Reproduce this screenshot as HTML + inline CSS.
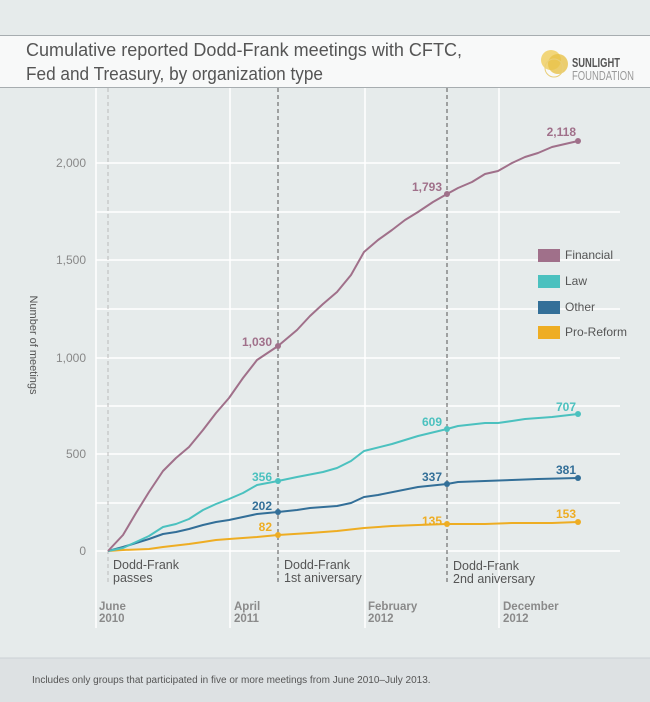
<!DOCTYPE html>
<html><head><meta charset="utf-8"><style>
body{margin:0;width:650px;height:702px;overflow:hidden;background:#e6ebeb;font-family:"Liberation Sans",sans-serif;}
</style></head><body>
<svg width="650" height="702" xmlns="http://www.w3.org/2000/svg" style="position:absolute;left:0;top:0">
<rect x="0" y="0" width="650" height="702" fill="#e6ebeb"/>
<rect x="0" y="35" width="650" height="52" fill="#f8f9f9"/>
<line x1="0" y1="35.5" x2="650" y2="35.5" stroke="#a7adb0"/>
<line x1="0" y1="87.5" x2="650" y2="87.5" stroke="#a7adb0"/>
<rect x="0" y="658" width="650" height="44" fill="#dde1e3"/>
<line x1="0" y1="658" x2="650" y2="658" stroke="#ccd1d4"/>
<text x="26" y="56" font-size="18" fill="#555" textLength="436" lengthAdjust="spacingAndGlyphs">Cumulative reported Dodd-Frank meetings with CFTC,</text>
<text x="26" y="80" font-size="18" fill="#555" textLength="297" lengthAdjust="spacingAndGlyphs">Fed and Treasury, by organization type</text>
<circle cx="551" cy="60" r="10" fill="#f1d16b" opacity="0.9"/>
<circle cx="558" cy="64" r="10" fill="#e7c24a" opacity="0.8"/>
<circle cx="554" cy="68" r="9" fill="none" stroke="#e9cf7a"/>
<text x="572" y="67" font-size="13" font-weight="bold" fill="#555" textLength="48" lengthAdjust="spacingAndGlyphs">SUNLIGHT</text>
<text x="572" y="80" font-size="13" fill="#999" textLength="62" lengthAdjust="spacingAndGlyphs">FOUNDATION</text>
<g stroke="#fff" stroke-width="1.5">
<line x1="96" y1="88" x2="96" y2="628"/><line x1="230" y1="88" x2="230" y2="628"/>
<line x1="365" y1="88" x2="365" y2="628"/><line x1="499" y1="88" x2="499" y2="628"/>
<line x1="96" y1="163" x2="620" y2="163"/><line x1="96" y1="212" x2="620" y2="212"/>
<line x1="96" y1="260" x2="620" y2="260"/><line x1="96" y1="309" x2="620" y2="309"/>
<line x1="96" y1="358" x2="620" y2="358"/><line x1="96" y1="406" x2="620" y2="406"/>
<line x1="96" y1="454" x2="620" y2="454"/><line x1="96" y1="503" x2="620" y2="503"/>
<line x1="96" y1="551" x2="620" y2="551"/>
</g>
<g stroke-dasharray="4,3" stroke-width="1">
<line x1="108" y1="88" x2="108" y2="584" stroke="#bbb"/>
<line x1="278" y1="88" x2="278" y2="584" stroke="#555"/>
<line x1="447" y1="88" x2="447" y2="584" stroke="#555"/>
</g>
<g font-size="12" fill="#888" text-anchor="end">
<text x="86" y="167">2,000</text><text x="86" y="264">1,500</text><text x="86" y="362">1,000</text>
<text x="86" y="458">500</text><text x="86" y="555">0</text>
</g>
<text transform="translate(30,345) rotate(90)" font-size="11" fill="#555" text-anchor="middle">Number of meetings</text>
<g fill="none" stroke-width="2" stroke-linejoin="round">
<polyline stroke="#eead23" points="108,551 123,550 149,549 163,547 189,544 203,542 216,540 229,539 257,537 278,535 310,533 337,531 364,528 392,526 418,525 447,524 485,524 512,523 552,523 578,522"/>
<polyline stroke="#336f98" points="108,551 123,547 136,543 149,539 163,534 176,532 189,529 203,525 216,522 229,520 257,514 278,512 297,510 310,508 337,506 351,503 364,497 378,495 418,487 447,484 458,482 485,481 512,480 538,479 578,478"/>
<polyline stroke="#4bc1bf" points="108,551 123,548 136,542 149,536 163,527 176,524 189,519 203,510 216,504 229,499 243,493 257,485 278,481 297,477 323,472 337,468 351,461 364,451 392,444 418,436 447,429 458,426 485,423 498,423 512,421 525,419 552,417 578,414"/>
<polyline stroke="#a0708a" points="108,551 123,535 136,513 149,492 163,471 176,458 189,447 203,430 216,413 229,398 243,378 257,360 278,346 297,330 310,316 323,304 337,292 351,275 364,252 378,240 392,230 405,220 418,212 433,202 447,194 458,188 472,182 485,174 498,171 512,163 525,157 538,153 552,147 565,144 578,141"/>
</g>
<g>
<circle cx="278" cy="346" r="3" fill="#a0708a"/><circle cx="447" cy="194" r="3" fill="#a0708a"/><circle cx="578" cy="141" r="3" fill="#a0708a"/>
<circle cx="278" cy="481" r="3" fill="#4bc1bf"/><circle cx="447" cy="429" r="3" fill="#4bc1bf"/><circle cx="578" cy="414" r="3" fill="#4bc1bf"/>
<circle cx="278" cy="512" r="3" fill="#336f98"/><circle cx="447" cy="484" r="3" fill="#336f98"/><circle cx="578" cy="478" r="3" fill="#336f98"/>
<circle cx="278" cy="535" r="3" fill="#eead23"/><circle cx="447" cy="524" r="3" fill="#eead23"/><circle cx="578" cy="522" r="3" fill="#eead23"/>
</g>
<g font-size="12" font-weight="bold" text-anchor="end">
<text x="272" y="346" fill="#a0708a">1,030</text><text x="442" y="191" fill="#a0708a">1,793</text><text x="576" y="136" fill="#a0708a">2,118</text>
<text x="272" y="481" fill="#4bc1bf">356</text><text x="442" y="426" fill="#4bc1bf">609</text><text x="576" y="411" fill="#4bc1bf">707</text>
<text x="272" y="510" fill="#336f98">202</text><text x="442" y="481" fill="#336f98">337</text><text x="576" y="474" fill="#336f98">381</text>
<text x="272" y="531" fill="#eead23">82</text><text x="442" y="525" fill="#eead23">135</text><text x="576" y="518" fill="#eead23">153</text>
</g>
<g font-size="12" fill="#555">
<rect x="538" y="249" width="22" height="13" fill="#a0708a"/><text x="565" y="259">Financial</text>
<rect x="538" y="275" width="22" height="13" fill="#4bc1bf"/><text x="565" y="285">Law</text>
<rect x="538" y="301" width="22" height="13" fill="#336f98"/><text x="565" y="311">Other</text>
<rect x="538" y="326" width="22" height="13" fill="#eead23"/><text x="565" y="336">Pro-Reform</text>
</g>
<g font-size="12.5" fill="#555">
<text x="113" y="569">Dodd-Frank</text><text x="113" y="582">passes</text>
<text x="284" y="569">Dodd-Frank</text><text x="284" y="582">1st aniversary</text>
<text x="453" y="570">Dodd-Frank</text><text x="453" y="583">2nd aniversary</text>
</g>
<g font-size="11.5" font-weight="bold" fill="#8a8a8a">
<text x="99" y="610">June</text><text x="99" y="622">2010</text>
<text x="234" y="610">April</text><text x="234" y="622">2011</text>
<text x="368" y="610">February</text><text x="368" y="622">2012</text>
<text x="503" y="610">December</text><text x="503" y="622">2012</text>
</g>
<text x="32" y="683" font-size="10" fill="#555">Includes only groups that participated in five or more meetings from June 2010–July 2013.</text>
</svg>
</body></html>
